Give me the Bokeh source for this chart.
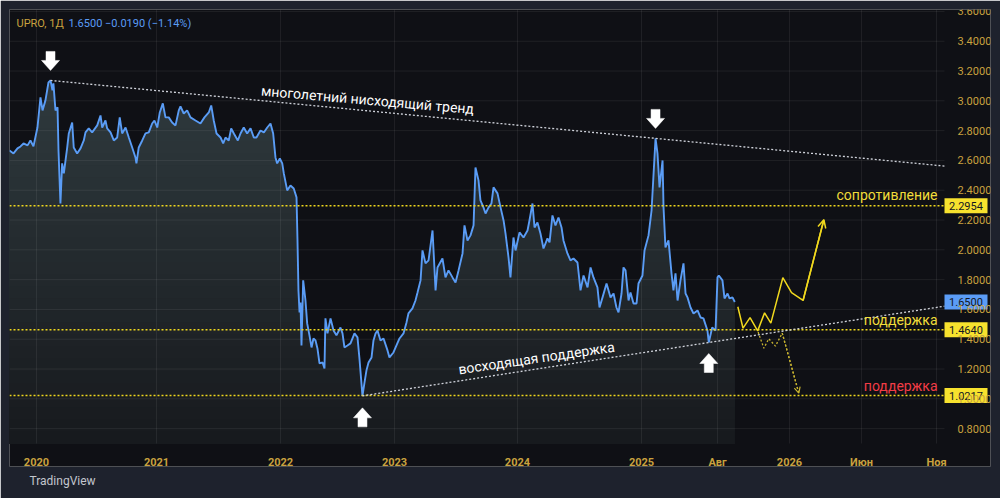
import numpy as np
from bokeh.plotting import figure
from bokeh.models import (Range1d, FixedTicker, PrintfTickFormatter, Label, Title, Arrow, OpenHead)
from bokeh.core.properties import value
from bokeh.embed import file_html
from bokeh.resources import INLINE

# ---------------- data (chart time in years since 2020, price in USD) -------------
t_years = [
    -0.223, -0.190, -0.157, -0.132, -0.107, -0.074, -0.050, -0.025, 0.008, 0.033,
    0.050, 0.074, 0.099, 0.116, 0.132, 0.140, 0.157, 0.174, 0.182, 0.198,
    0.212, 0.226, 0.254, 0.267, 0.295, 0.308, 0.336, 0.364, 0.391, 0.405,
    0.432, 0.460, 0.502, 0.529, 0.543, 0.570, 0.584, 0.612, 0.639, 0.667,
    0.688, 0.708, 0.736, 0.763, 0.791, 0.818, 0.826, 0.845, 0.874, 0.901,
    0.928, 0.956, 0.975, 0.998, 1.019, 1.044, 1.066, 1.093, 1.121, 1.149,
    1.176, 1.190, 1.217, 1.245, 1.273, 1.314, 1.355, 1.388, 1.424, 1.444,
    1.465, 1.488, 1.521, 1.543, 1.562, 1.589, 1.609, 1.631, 1.664, 1.686,
    1.713, 1.741, 1.769, 1.796, 1.818, 1.851, 1.879, 1.907, 1.934, 1.956,
    1.975, 1.989, 2.011, 2.031, 2.044, 2.072, 2.099, 2.126, 2.149, 2.157,
    2.165, 2.174, 2.182, 2.190, 2.204, 2.223, 2.237, 2.256, 2.273, 2.289,
    2.306, 2.322, 2.339, 2.364, 2.380, 2.388, 2.405, 2.430, 2.455, 2.479,
    2.512, 2.529, 2.545, 2.570, 2.595, 2.628, 2.653, 2.669, 2.694, 2.711,
    2.727, 2.744, 2.769, 2.785, 2.802, 2.818, 2.843, 2.868, 2.901, 2.917,
    2.950, 2.975, 3.000, 3.033, 3.058, 3.074, 3.107, 3.132, 3.149, 3.174,
    3.190, 3.215, 3.240, 3.273, 3.298, 3.314, 3.355, 3.380, 3.405, 3.438,
    3.463, 3.488, 3.521, 3.537, 3.562, 3.587, 3.612, 3.628, 3.653, 3.669,
    3.694, 3.711, 3.736, 3.760, 3.777, 3.810, 3.835, 3.860, 3.876, 3.901,
    3.917, 3.942, 3.959, 3.992, 4.025, 4.058, 4.074, 4.099, 4.116, 4.140,
    4.165, 4.190, 4.223, 4.240, 4.264, 4.289, 4.314, 4.339, 4.355, 4.388,
    4.413, 4.438, 4.471, 4.496, 4.521, 4.554, 4.579, 4.603, 4.636, 4.653,
    4.678, 4.711, 4.744, 4.769, 4.793, 4.810, 4.835, 4.851, 4.868, 4.893,
    4.909, 4.934, 4.959, 4.975, 5.008, 5.025, 5.058, 5.083, 5.099, 5.116,
    5.132, 5.149, 5.174, 5.182, 5.198, 5.223, 5.248, 5.264, 5.281, 5.298,
    5.322, 5.347, 5.364, 5.380, 5.405, 5.430, 5.463, 5.488, 5.512, 5.545,
    5.556, 5.584, 5.612, 5.628, 5.639, 5.669, 5.686, 5.711, 5.727, 5.752, 5.771,
]
price = [
    2.667, 2.647, 2.681, 2.694, 2.714, 2.701, 2.734, 2.694, 2.821, 3.023,
    2.936, 3.003, 3.123, 3.137, 3.070, 3.117, 2.936, 2.956, 2.667, 2.311,
    2.580, 2.513, 2.687, 2.781, 2.855, 2.687, 2.647, 2.681, 2.734, 2.788,
    2.815, 2.788, 2.835, 2.902, 2.821, 2.868, 2.815, 2.788, 2.734, 2.754,
    2.889, 2.781, 2.821, 2.754, 2.687, 2.620, 2.580, 2.687, 2.734, 2.781,
    2.788, 2.848, 2.868, 2.821, 2.922, 2.983, 2.889, 2.889, 2.855, 2.835,
    2.936, 2.962, 2.915, 2.936, 2.889, 2.868, 2.848, 2.889, 2.922, 2.969,
    2.868, 2.781, 2.754, 2.714, 2.754, 2.734, 2.815, 2.781, 2.734, 2.781,
    2.821, 2.781, 2.815, 2.754, 2.754, 2.801, 2.788, 2.821, 2.848, 2.781,
    2.620, 2.580, 2.613, 2.580, 2.513, 2.399, 2.432, 2.412, 2.352, 2.063,
    1.728, 1.580, 1.647, 1.358, 1.795, 1.660, 1.506, 1.426, 1.345, 1.405,
    1.392, 1.338, 1.238, 1.244, 1.204, 1.540, 1.439, 1.540, 1.459, 1.426,
    1.479, 1.439, 1.345, 1.358, 1.372, 1.439, 1.412, 1.271, 1.020, 1.110,
    1.191, 1.244, 1.278, 1.392, 1.439, 1.459, 1.392, 1.405, 1.325, 1.278,
    1.311, 1.358, 1.405, 1.439, 1.513, 1.573, 1.607, 1.660, 1.714, 1.795,
    1.996, 1.909, 1.929, 2.130, 1.728, 1.882, 1.942, 1.815, 1.862, 1.815,
    1.781, 1.862, 1.976, 2.164, 2.063, 2.097, 2.164, 2.553, 2.466, 2.332,
    2.285, 2.244, 2.285, 2.311, 2.419, 2.379, 2.285, 2.197, 2.110, 1.949,
    1.815, 2.083, 1.996, 2.117, 2.083, 2.130, 2.197, 2.311, 2.150, 2.184,
    2.110, 2.009, 2.077, 2.050, 2.231, 2.164, 2.217, 2.150, 2.063, 1.976,
    1.929, 1.942, 1.915, 1.728, 1.828, 1.748, 1.882, 1.815, 1.748, 1.613,
    1.681, 1.774, 1.681, 1.707, 1.613, 1.580, 1.707, 1.882, 1.862, 1.660,
    1.714, 1.640, 1.640, 1.774, 1.828, 1.996, 2.097, 2.264, 2.499, 2.748,
    2.647, 2.419, 2.600, 2.285, 2.016, 2.063, 1.842, 1.728, 1.842, 1.660,
    1.795, 1.909, 1.707, 1.681, 1.613, 1.573, 1.593, 1.546, 1.540, 1.459,
    1.378, 1.479, 1.459, 1.815, 1.828, 1.795, 1.674, 1.707, 1.674, 1.681, 1.650,
]

# hand-drawn scenario paths
proj_up_t = [5.796, 5.839, 5.897, 5.960, 6.017, 6.069, 6.168, 6.240, 6.335, 6.507]
proj_up_v = [1.618, 1.474, 1.545, 1.456, 1.577, 1.508, 1.813, 1.713, 1.660, 2.202]
proj_down_t = [5.964, 6.011, 6.052, 6.107, 6.163, 6.300]
proj_down_v = [1.448, 1.340, 1.403, 1.354, 1.441, 1.038]

resistance = 2.2954
support_mid = 1.4640
support_low = 1.0217
last_price = 1.6500

x_tick_pos = [0.0, 0.992, 2.017, 2.959, 3.975, 5.0, 5.628, 6.223, 6.818, 7.438]
x_tick_labels = ["2020", "2021", "2022", "2023", "2024", "2025", "Авг", "2026", "Июн", "Ноя"]
y_ticks = [0.8, 1.0, 1.2, 1.4, 1.6, 1.8, 2.0, 2.2, 2.4, 2.6, 2.8, 3.0, 3.2, 3.4, 3.6]

# ---------------- layout ----------------
W, H = 1000, 498
BL, BR, BT, BB = 9, 10, 9, 32           # outer frame around the dark chart pane
PANE_W, PANE_H = 935, 434               # price pane (without the axis strips)
X0, X1 = -0.223, 7.504                  # visible time span of the price pane
Y0, Y1 = 0.7002, 3.613                  # visible price span of the price pane
SX = PANE_W / (X1 - X0)
SY = PANE_H / (Y1 - Y0)
FW, FH = W - BL - BR, H - BT - BB
XR = X0 + FW / SX                       # includes the price-axis strip
YB = Y1 - FH / SY                       # includes the time-axis strip


def px_x(px):
    return X0 + (px - BL) / SX


def px_y(py):
    return Y1 - (py - BT) / SY


OUTER = "#1e222d"
PANE = "#0f1015"
GOLD = "#c9a23f"
BLUE = "#5a9cf5"
YEL = "#f0d81e"
WHITE_DOT = "#d1d4dc"

p = figure(width=W, height=H, x_range=Range1d(X0, XR), y_range=Range1d(YB, Y1),
           output_backend="svg", toolbar_location=None, y_axis_location="right",
           min_border_left=BL, min_border_right=BR, min_border_top=BT, min_border_bottom=BB)
p.background_fill_color = PANE
p.border_fill_color = OUTER
p.outline_line_color = None
p.xgrid.visible = False
p.ygrid.visible = False

# axes sit on the edges of the price pane
p.xaxis.fixed_location = Y0
p.yaxis.fixed_location = X1
p.xaxis.ticker = FixedTicker(ticks=x_tick_pos)
p.xaxis.major_label_overrides = dict(zip(x_tick_pos, x_tick_labels))
p.yaxis.ticker = FixedTicker(ticks=y_ticks)
p.yaxis.formatter = PrintfTickFormatter(format="%.4f")
for ax in (p.xaxis, p.yaxis):
    ax.axis_line_color = None
    ax.major_tick_line_color = None
    ax.minor_tick_line_color = None
    ax.major_label_text_color = GOLD
    ax.major_label_text_font = "Roboto"
    ax.major_label_text_font_size = "11px"
p.xaxis.major_label_text_font_style = "bold"
p.xaxis.major_label_standoff = 6
p.yaxis.major_label_standoff = 7

# gradient area under price (down to the pane bottom)
t = np.array(t_years)
pr = np.array(price)
vmax = pr.max()
n_b = 30
edges = np.linspace(Y0, vmax, n_b + 1)
top_rgb = np.array([47, 58, 62])
bot_rgb = np.array([23, 25, 29])
for k in range(n_b - 1, -1, -1):
    f = (k + 0.5) / n_b
    c = bot_rgb + (top_rgb - bot_rgb) * f
    col = "#%02x%02x%02x" % tuple(int(round(v)) for v in c)
    p.varea(x=t, y1=Y0, y2=np.minimum(pr, edges[k + 1]), fill_color=col)

# grid (over the area, under the line, only inside the price pane)
ny, nx = len(y_ticks), len(x_tick_pos)
p.segment(x0=[X0] * ny, y0=y_ticks, x1=[X1] * ny, y1=y_ticks,
          line_color="white", line_alpha=0.07, line_width=1)
p.segment(x0=x_tick_pos, y0=[Y0] * nx, x1=x_tick_pos, y1=[Y1] * nx,
          line_color="white", line_alpha=0.07, line_width=1)

# price line
p.line(t, pr, line_color=BLUE, line_width=1.9)

# horizontal levels
lv_all = [resistance, support_mid, support_low]
p.segment(x0=[X0] * 3, y0=lv_all, x1=[X1] * 3, y1=lv_all,
          line_color=YEL, line_width=1.5, line_dash="2 2")

# trend lines
m1 = t < 1
i1 = int(np.argmax(np.where(m1, pr, -1)))
m2 = t > 4.5
i2 = int(np.argmax(np.where(m2, pr, -1)))
slope_dn = (pr[i2] - pr[i1]) / (t[i2] - t[i1])
p.line([t[i1], X1], [pr[i1], pr[i1] + slope_dn * (X1 - t[i1])],
       line_color=WHITE_DOT, line_width=1.3, line_dash="2 2")

j1 = int(np.argmin(pr))
m3 = t > 5
j2 = int(np.argmin(np.where(m3, pr, 99)))
slope_up = (pr[j2] - pr[j1]) / (t[j2] - t[j1])
p.line([t[j1], X1], [pr[j1], pr[j1] + slope_up * (X1 - t[j1])],
       line_color=WHITE_DOT, line_width=1.3, line_dash="2 2")

# scenario paths
p.line(proj_up_t, proj_up_v, line_color=YEL, line_width=1.5)
p.add_layout(Arrow(end=OpenHead(size=8, line_color=YEL, line_width=1.5),
                   x_start=proj_up_t[-2], y_start=proj_up_v[-2],
                   x_end=proj_up_t[-1], y_end=proj_up_v[-1],
                   line_color=YEL, line_width=1.5))
DIM_YEL = "#c8b430"
p.line(proj_down_t, proj_down_v, line_color=DIM_YEL, line_width=1.3, line_dash="2 2")
p.add_layout(Arrow(end=OpenHead(size=6, line_color=DIM_YEL, line_width=1.2),
                   x_start=proj_down_t[-2], y_start=proj_down_v[-2],
                   x_end=proj_down_t[-1], y_end=proj_down_v[-1],
                   line_color=DIM_YEL, line_width=1.3, line_dash="2 2"))


# white arrows pointing at the extremes
def arrow_poly(ax_, ay_, down, gap):
    pts = [(0, gap), (9, gap + 10), (4.5, gap + 10), (4.5, gap + 19),
           (-4.5, gap + 19), (-4.5, gap + 10), (-9, gap + 10)]
    s = 1 if down else -1
    return [ax_ + dx / SX for dx, dy in pts], [ay_ + s * dy / SY for dx, dy in pts]


axs, ays = [], []
for (ii, down, gap) in [(i1, True, 10), (i2, True, 10), (j1, False, 12), (j2, False, 11)]:
    xs_, ys_ = arrow_poly(t[ii], pr[ii], down, gap)
    axs.append(xs_)
    ays.append(ys_)
p.patches(axs, ays, fill_color="white", line_color="white", line_width=0.5)

# rotated annotations along the trend lines
tx = px_x(367)
p.add_layout(Label(x=tx, y=pr[i1] + slope_dn * (tx - t[i1]) + 11 / SY, text="многолетний нисходящий тренд",
                   angle=np.arctan(slope_dn * SY / SX) * 0.9,
                   text_color="white", text_font="Roboto", text_font_size="14px",
                   text_align="center", text_baseline="middle"))
tx2 = px_x(536)
p.add_layout(Label(x=tx2, y=pr[j1] + slope_up * (tx2 - t[j1]) + 11 / SY, text="восходящая поддержка",
                   angle=np.arctan(slope_up * SY / SX) * 0.95,
                   text_color="white", text_font="Roboto", text_font_size="14px",
                   text_align="center", text_baseline="middle"))

# level labels
xr = px_x(937)
for lv, txt, col, off in [(resistance, "сопротивление", "#f0dc3a", 11),
                          (support_mid, "поддержка", "#f0dc3a", 10),
                          (support_low, "поддержка", "#f23c46", 10)]:
    p.add_layout(Label(x=xr, y=lv + off / SY, text=txt, text_color=col, text_font="Roboto",
                       text_font_size="14px", text_align="right", text_baseline="middle"))

# price badges on the price axis
badge_vals = [resistance, last_price, support_mid, support_low]
badge_cols = ["#f7e22e", "#5b9cf6", "#f7e22e", "#f7e22e"]
bx = X1 + 21.5 / SX
p.rect(x=[bx] * 4, y=badge_vals, width=43, height=15, width_units="screen", height_units="screen",
       fill_color=badge_cols, line_color=None)
p.text(x=[bx] * 4, y=badge_vals, text=["%.4f" % v for v in badge_vals], text_color="#131722",
       text_font=value("Roboto"), text_font_size="11px", text_align="center", text_baseline="middle")

# header
p.add_layout(Label(x=px_x(16), y=px_y(22.5), text="UPRO, 1Д", text_color=GOLD, text_font="Roboto",
                   text_font_size="11px", text_baseline="middle"))
p.add_layout(Label(x=px_x(68), y=px_y(22.5), text="1.6500  −0.0190 (−1.14%)", text_color=BLUE,
                   text_font="Roboto", text_font_size="11px", text_baseline="middle"))

# footer
p.add_layout(Title(text="TradingView", align="left", offset=20, standoff=11,
                   text_font="Roboto", text_font_size="12px", text_font_style="normal",
                   text_color="#c3c6ce"), "below")

open("out.html", "w").write(file_html(p, INLINE))
